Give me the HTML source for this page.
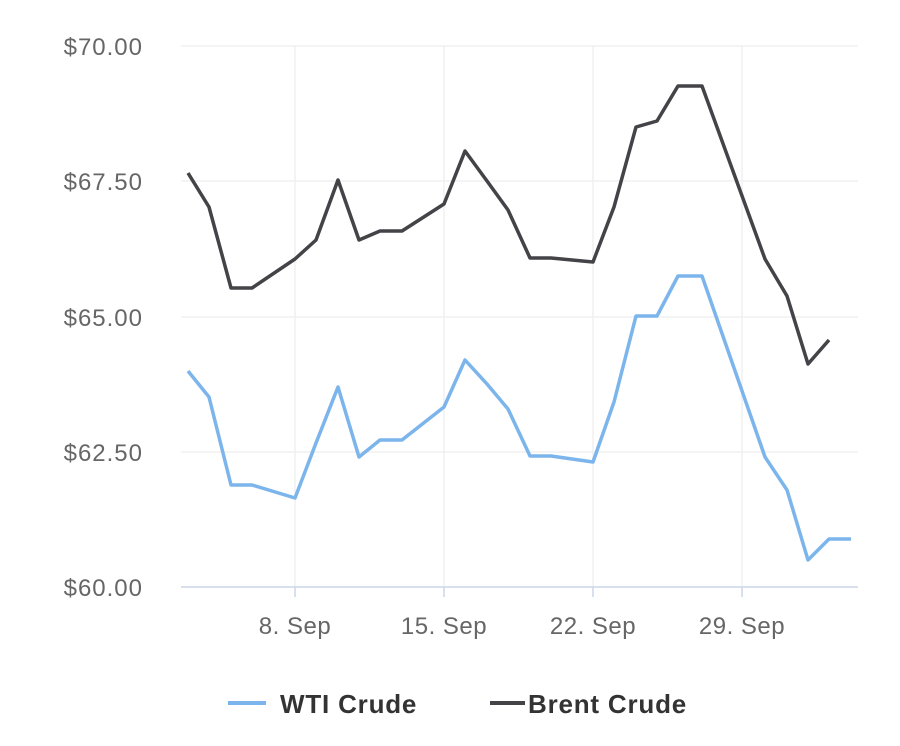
<!DOCTYPE html>
<html><head><meta charset="utf-8"><style>
html,body{margin:0;padding:0;background:#fff;}
svg{display:block;font-family:"Liberation Sans",sans-serif;}
</style></head><body>
<svg width="900" height="746" viewBox="0 0 900 746" xmlns="http://www.w3.org/2000/svg">
<g stroke="#f0f0f0" stroke-width="1.5">
<line x1="181" y1="46" x2="858" y2="46"/>
<line x1="181" y1="181" x2="858" y2="181"/>
<line x1="181" y1="317" x2="858" y2="317"/>
<line x1="181" y1="452" x2="858" y2="452"/>
<line x1="295" y1="46" x2="295" y2="587"/>
<line x1="444" y1="46" x2="444" y2="587"/>
<line x1="593" y1="46" x2="593" y2="587"/>
<line x1="742" y1="46" x2="742" y2="587"/>
</g>
<line x1="181" y1="587" x2="858" y2="587" stroke="#ccd6eb" stroke-width="1.5"/>
<g stroke="#ccd6eb" stroke-width="1.5">
<line x1="295" y1="587" x2="295" y2="597"/><line x1="444" y1="587" x2="444" y2="597"/>
<line x1="593" y1="587" x2="593" y2="597"/><line x1="742" y1="587" x2="742" y2="597"/>
</g>
<g fill="#666" font-size="24" text-anchor="end" letter-spacing="1">
<text x="143" y="55">$70.00</text>
<text x="143" y="190">$67.50</text>
<text x="143" y="326">$65.00</text>
<text x="143" y="461">$62.50</text>
<text x="143" y="596">$60.00</text>
</g>
<g fill="#666" font-size="24" text-anchor="middle" letter-spacing="0.5">
<text x="295" y="634">8. Sep</text>
<text x="444" y="634">15. Sep</text>
<text x="593" y="634">22. Sep</text>
<text x="742" y="634">29. Sep</text>
</g>
<polyline fill="none" stroke="#7cb5ec" stroke-width="3.5" stroke-linejoin="round" points="188,371 209,397 231,485 252,485 295,498 316,443 338,387 359,457 380,440 402,440 444,407 465,360 487,384 508,409 530,456 551,456 593,462 614,402 636,316 657,316 678,276 702,276 765,457 787,490 808,560 829,539 851,539"/>
<polyline fill="none" stroke="#434348" stroke-width="3.5" stroke-linejoin="round" points="188,173 209,207 231,288 252,288 295,259 316,240 338,180 359,240 380,231 402,231 444,204 465,151 487,181 508,210 530,258 551,258 593,262 614,207 636,127 657,121 678,86 702,86 765,259 787,296 808,364 829,340"/>
<line x1="228" y1="703" x2="266" y2="703" stroke="#7cb5ec" stroke-width="4"/>
<text x="280" y="713" font-size="26" font-weight="bold" fill="#333" letter-spacing="0.8">WTI Crude</text>
<line x1="490" y1="703" x2="525" y2="703" stroke="#434348" stroke-width="4"/>
<text x="528" y="713" font-size="26" font-weight="bold" fill="#333" letter-spacing="0.8">Brent Crude</text>
</svg>
</body></html>
